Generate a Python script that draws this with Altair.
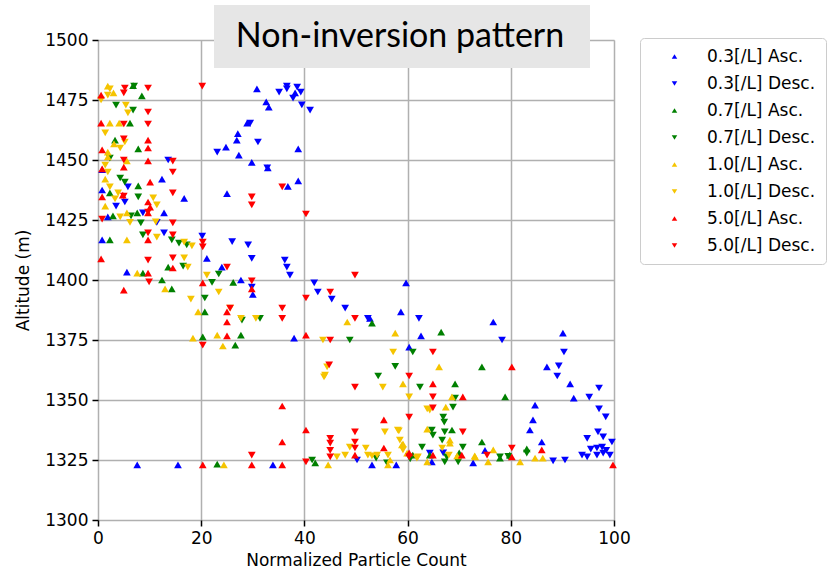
import altair as alt
import pandas as pd

labels = ["0.3[/L] Asc.", "0.3[/L] Desc.", "0.7[/L] Asc.", "0.7[/L] Desc.",
          "1.0[/L] Asc.", "1.0[/L] Desc.", "5.0[/L] Asc.", "5.0[/L] Desc."]
colors = ["#0000ff", "#0000ff", "#008000", "#008000",
          "#f5c400", "#f5c400", "#ff0000", "#ff0000"]
shapes = ["triangle-up", "triangle-down"] * 4
title_text = ["Non-inversion pattern"]
x_ticks = [0, 20, 40, 60, 80, 100]
y_ticks = [1300, 1325, 1350, 1375, 1400, 1425, 1450, 1475, 1500]

# 0.3 [/L] ascending
b_asc_x = [30.8, 38.2, 32.6, 33.1, 28.9, 27.1, 26.9, 24.8, 27.3, 38.8, 29.8, 32.9, 36.8, 38.8,
           12.4, 0.8, 0.8, 16.7, 12.8, 1.9, 25.0, 0.8, 21.1, 24.0, 5.6, 27.7, 30.0, 38.0, 52.7,
           59.7, 58.7, 62.6, 60.3, 76.6, 90.1, 87.0, 91.5, 92.2, 84.7, 84.3, 83.7, 86.0, 72.7,
           75.0, 33.9, 53.1, 57.8, 64.7, 7.6, 15.5]
b_asc_y = [1479.6, 1478, 1474.2, 1472, 1465.4, 1461, 1458.3, 1455.4, 1452, 1454.6, 1449, 1446.7,
           1439, 1441.3, 1442, 1446, 1437.5, 1434, 1428, 1426.3, 1436, 1416.7, 1409, 1405.4,
           1403.3, 1400, 1394, 1375.8, 1384, 1398.8, 1386.7, 1376.7, 1372, 1382.5, 1377.9,
           1363.8, 1356.7, 1350.8, 1347.9, 1341.7, 1337.5, 1332.5, 1323.8, 1329, 1323, 1323,
           1323, 1324.2, 1323, 1323]
# 0.3 [/L] descending
b_desc_x = [35.1, 36.6, 36.6, 38.6, 39.3, 37.8, 39.5, 41.1, 29.5, 31.0, 23.1, 32.8, 13.6, 5.8,
            5.2, 3.5, 8.7, 11.4, 12.8, 20.2, 26.0, 29.1, 29.8, 36.2, 36.6, 37.2, 41.9, 42.6,
            45.3, 47.9, 29.8, 52.3, 62.2, 78.3, 90.3, 89.3, 89.0, 97.1, 95.2, 97.1, 98.4, 94.8,
            96.9, 97.9, 99.6, 90.5, 93.8, 94.8, 96.7, 97.9, 99.2, 96.7, 97.7, 88.2, 50.2, 66.9,
            64.3, 98.5, 95.5]
b_desc_y = [1478.3, 1480.8, 1479.6, 1480.4, 1478.3, 1475.8, 1473, 1470.8, 1465.4, 1457.5,
            1453.3, 1446.7, 1450, 1438.8, 1432.5, 1430.8, 1428, 1424, 1419.6, 1418.3, 1416,
            1414.6, 1409, 1408.3, 1405.4, 1402, 1398.8, 1395, 1392, 1388.3, 1397, 1384, 1384,
            1375, 1370, 1364.2, 1360, 1355, 1351.2, 1346.3, 1343, 1334, 1336.7, 1334.6, 1332.5,
            1325, 1327, 1326.3, 1327, 1327.9, 1327, 1330, 1330.4, 1324.6, 1325, 1328, 1327.9,
            1329, 1329.5]
# 0.7 [/L] ascending
g_asc_x = [6.8, 8.5, 6.2, 3.3, 7.8, 7.8, 2.3, 7.6, 2.9, 2.3, 8.7, 12.4, 14.3, 20.7, 26.2, 27.7,
           26.6, 13.6, 20.3, 53.1, 66.5, 42.1, 64.3, 74.4, 78.9, 69.2, 68.6, 74.4, 77.9, 83.1,
           79.8, 23.1, 70.0, 61.0]
g_asc_y = [1481, 1476.7, 1465.4, 1458.3, 1454.6, 1439.2, 1436.3, 1428, 1426.7, 1416.7, 1402.9,
           1400, 1396.3, 1386.7, 1399, 1377, 1372.9, 1405.4, 1376.3, 1382, 1378.3, 1323.8, 1327,
           1363.8, 1351.3, 1356.7, 1337.5, 1332.5, 1325.8, 1329.6, 1327, 1323.3, 1328, 1327]
# 0.7 [/L] descending
g_desc_x = [7.0, 3.5, 6.8, 2.3, 4.3, 5.2, 7.8, 8.3, 6.4, 8.7, 14.3, 15.7, 17.2, 23.4, 20.7,
            22.1, 31.4, 16.5, 27.9, 48.8, 61.0, 57.6, 54.3, 62.4, 53.9, 56.0, 62.8, 64.7, 66.9,
            66.7, 67.6, 69.2, 68.8, 67.1, 67.2, 64.9, 70.7, 67.2, 69.8, 83.1, 77.9, 79.5, 41.5,
            60.5]
g_desc_y = [1480.8, 1472.9, 1470.8, 1450.8, 1442.5, 1440.8, 1434.6, 1423.8, 1426.7, 1418.8,
            1416.7, 1415.4, 1414.6, 1402.5, 1392.5, 1399, 1384, 1405.8, 1383.3, 1375, 1370,
            1364, 1360, 1355.4, 1325.8, 1323.8, 1330.4, 1337.5, 1342.9, 1333.3, 1326.3, 1350.8,
            1347, 1340.8, 1336.7, 1335.4, 1330.4, 1324.2, 1324.2, 1327.9, 1326.3, 1326.5, 1325,
            1325.5]
# 1.0 [/L] ascending
y_asc_x = [1.9, 2.3, 4.1, 3.1, 1.9, 1.9, 5.6, 1.4, 1.4, 5.6, 5.6, 7.6, 13.0, 19.4, 18.4, 23.1,
           24.2, 48.3, 57.6, 66.1, 59.1, 67.4, 63.8, 58.9, 59.9, 63.8, 44.6, 56.6, 68.2, 69.6,
           73.0, 56.2, 68.6, 68.2, 73.1, 75.6, 76.6, 81.8, 84.7, 86.2, 24.4, 3.0, 59.1]
y_asc_y = [1480.8, 1465.4, 1465.4, 1456.7, 1453.3, 1451.3, 1449.6, 1442, 1430.8, 1428, 1416.7,
           1402.9, 1396.3, 1386.7, 1375.8, 1377, 1372.5, 1382.5, 1377.9, 1363.8, 1356.7, 1347,
           1337.9, 1331.3, 1327.9, 1324.2, 1323, 1325, 1333.3, 1326.7, 1326.7, 1323, 1351.3,
           1332, 1326.3, 1324.2, 1329.2, 1324.2, 1325.8, 1325.8, 1323, 1478, 1331.7]
# 1.0 [/L] descending
y_desc_x = [2.3, 1.9, 5.4, 5.8, 0.6, 1.4, 5.2, 4.3, 1.4, 1.9, 2.3, 3.9, 3.3, 10.7, 11.4, 4.3,
            11.2, 6.2, 11.4, 16.7, 18.2, 16.7, 17.4, 18.0, 21.1, 23.4, 25.6, 27.7, 30.6, 43.6,
            57.2, 44.0, 44.4, 55.2, 60.3, 64.3, 55.6, 48.8, 47.9, 51.9, 52.3, 54.1, 58.1, 58.5,
            59.1, 61.8, 46.3, 63.8, 58.3, 53.1, 56.2, 62.0, 68.0, 66.7, 43.8]
y_desc_y = [1479.6, 1477, 1472.9, 1469.6, 1475, 1461.3, 1457.5, 1455, 1447.9, 1445, 1438.8,
            1436.3, 1433.8, 1434.2, 1431.3, 1426.3, 1424.2, 1424, 1417.9, 1415.8, 1414.2, 1409.2,
            1405.4, 1392, 1402, 1395, 1388.3, 1384, 1384, 1375, 1370, 1360.4, 1363.8, 1355.4,
            1351.3, 1345.8, 1336.7, 1330.4, 1327, 1330, 1327, 1327, 1337.5, 1333.3, 1329.2,
            1325.8, 1326.3, 1346.3, 1337.1, 1326.7, 1327, 1326.3, 1327, 1330, 1359.6]
# 5.0 [/L] ascending
r_asc_x = [0.6, 0.6, 9.7, 9.7, 0.8, 5.0, 9.7, 10.1, 0.8, 4.8, 10.1, 0.8, 9.7, 9.7, 9.7, 0.6,
           14.5, 9.7, 5.0, 20.3, 29.8, 25.0, 25.0, 25.0, 40.3, 35.7, 35.7, 40.3, 29.8, 35.7,
           49.8, 55.4, 55.4, 64.9, 64.9, 80.2, 80.2, 86.0, 70.5, 70.7, 99.8, 20.3, 60.3]
r_asc_y = [1477, 1465.4, 1458.3, 1455, 1454.2, 1447, 1449.6, 1440.8, 1446.3, 1435.4, 1430.4,
           1434.6, 1432.5, 1428, 1416.7, 1408.8, 1405, 1402.9, 1395.8, 1398.8, 1396.3, 1386.7,
           1382.5, 1376.7, 1377, 1347.5, 1332.5, 1337.5, 1323, 1323, 1327, 1341.7, 1330, 1356.7,
           1327, 1363.8, 1326.3, 1329.2, 1327, 1351.3, 1323, 1323, 1328]
# 5.0 [/L] descending
r_desc_x = [9.7, 5.2, 5.0, 9.7, 5.0, 9.7, 5.0, 5.0, 14.5, 14.5, 9.7, 14.5, 0.8, 20.2, 29.8,
            35.7, 29.8, 40.3, 5.0, 9.7, 14.5, 20.3, 20.3, 9.7, 14.5, 9.9, 25.0, 29.8, 25.6, 20.3,
            49.8, 45.0, 40.3, 35.7, 35.7, 49.8, 45.0, 44.8, 49.8, 29.8, 40.3, 45.0, 45.0, 45.0,
            45.0, 49.8, 49.8, 49.8, 60.3, 64.9, 64.9, 64.9, 60.3, 60.3, 70.7, 80.2, 75.4, 14.5]
r_desc_y = [1480, 1480, 1478, 1470, 1465, 1465, 1458.8, 1450, 1445, 1436.3, 1428.3, 1423.8,
            1425.4, 1480.8, 1434.6, 1438.8, 1431.3, 1427.5, 1435, 1419.6, 1418.8, 1415.8, 1413.8,
            1408.3, 1409.2, 1399.2, 1405.4, 1399.6, 1388.3, 1372.9, 1402, 1395, 1392.5, 1388.3,
            1384, 1384, 1375, 1364.6, 1355.4, 1327, 1324.2, 1334, 1332, 1329, 1326.3, 1336.7,
            1332.5, 1330, 1360, 1351.3, 1346.7, 1370, 1342.9, 1326.3, 1336.7, 1330, 1327, 1449.5]

series_x = [b_asc_x, b_desc_x, g_asc_x, g_desc_x, y_asc_x, y_desc_x, r_asc_x, r_desc_x]
series_y = [b_asc_y, b_desc_y, g_asc_y, g_desc_y, y_asc_y, y_desc_y, r_asc_y, r_desc_y]

rows = []
order = 0
for lab, xs, ys in zip(labels, series_x, series_y):
    for xv, yv in zip(xs, ys):
        rows.append({"x": xv, "y": yv, "series": lab, "order": order})
        order += 1
df = pd.DataFrame(rows)

axis_common = dict(
    grid=True, gridColor="#b0b0b0", gridWidth=1.5,
    tickColor="black", tickSize=6, tickWidth=1.5,
    domain=False, format="d", labelFlush=False,
    labelFont="DejaVu Sans", labelFontSize=17, labelColor="black", labelPadding=4,
    titleFont="DejaVu Sans", titleFontSize=17, titleFontWeight="normal", titleColor="black",
)

points = alt.Chart(df).mark_point(filled=True, opacity=1, size=60).encode(
    x=alt.X("x:Q", scale=alt.Scale(domain=[0, 100], nice=False, zero=False),
            axis=alt.Axis(values=x_ticks, title="Normalized Particle Count",
                          titlePadding=6, **axis_common)),
    y=alt.Y("y:Q", scale=alt.Scale(domain=[1300, 1500], nice=False, zero=False),
            axis=alt.Axis(values=y_ticks, title="Altitude (m)", titlePadding=12,
                          **axis_common)),
    color=alt.Color("series:N", scale=alt.Scale(domain=labels, range=colors),
                    legend=alt.Legend(title=None, orient="none", legendX=542, legendY=-2,
                                      strokeColor="#cccccc", fillColor="white",
                                      cornerRadius=4, padding=10, rowPadding=9,
                                      symbolSize=30, symbolOffset=16, labelOffset=24,
                                      labelFont="DejaVu Sans", labelFontSize=17,
                                      labelColor="black")),
    shape=alt.Shape("series:N", scale=alt.Scale(domain=labels, range=shapes)),
    order=alt.Order("order:Q"),
)

title_df = pd.DataFrame({"t": title_text})
box = alt.Chart(title_df).mark_rect(color="#e6e6e6").encode(
    x=alt.value(116), x2=alt.value(492), y=alt.value(-35), y2=alt.value(28)
)
txt = alt.Chart(title_df).mark_text(
    font="Lato", fontSize=34, color="black", align="center", baseline="middle"
).encode(x=alt.value(302), y=alt.value(-3), text="t:N")

chart = alt.layer(points, box, txt).properties(
    width=516, height=480,
    autosize=alt.AutoSizeParams(type="none"),
    padding={"left": 98, "top": 40, "right": 213, "bottom": 61},
).configure_view(stroke="black", strokeWidth=1.5).configure(background="white")

chart.save("out.html", embed_options={"renderer": "svg", "actions": False})
